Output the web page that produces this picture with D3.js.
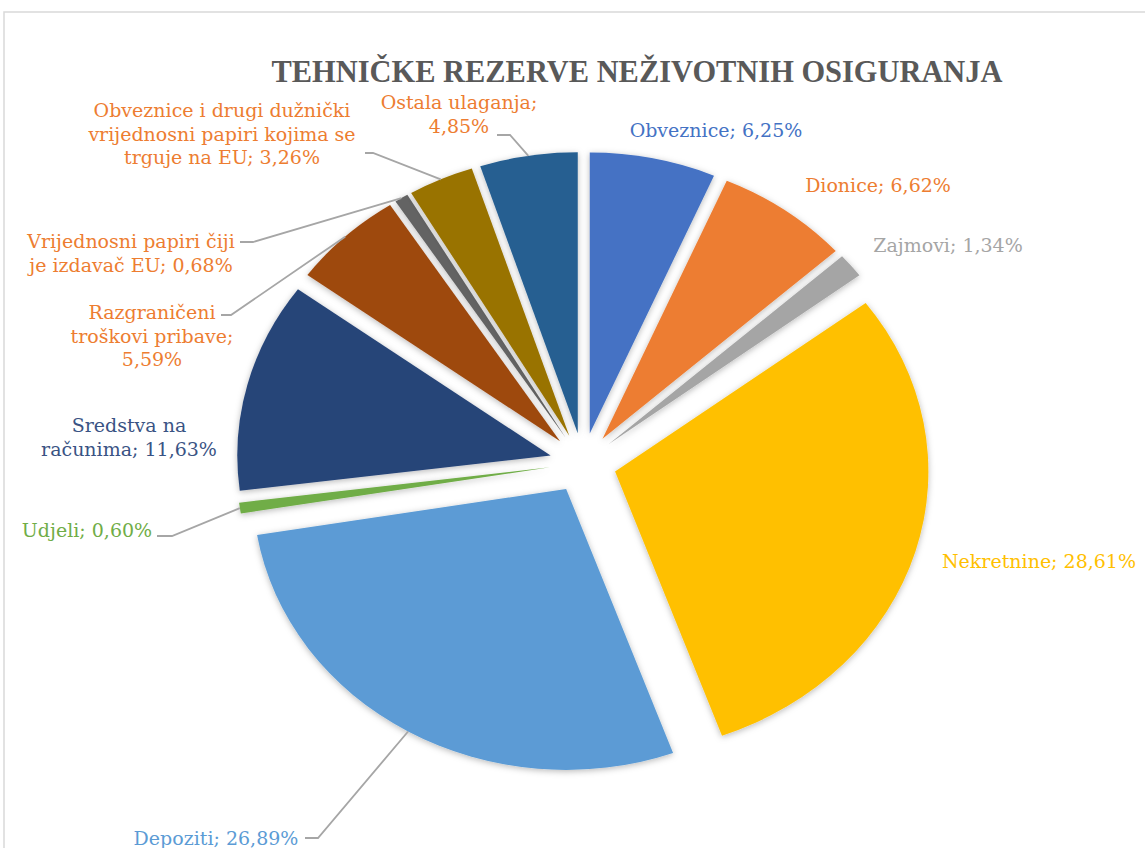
<!DOCTYPE html>
<html>
<head>
<meta charset="utf-8">
<script src="https://cdn.jsdelivr.net/npm/d3@7"></script>
<style>
  body { margin: 0; background: #fff; }
  svg { display: block; }
</style>
</head>
<body>
<div id="chart"></div>
<script>
// data (shares in %)
const categories = ["Obveznice", "Dionice", "Zajmovi", "Nekretnine", "Depoziti", "Udjeli",
  "Sredstva na računima", "Razgraničeni troškovi pribave", "Vrijednosni papiri čiji je izdavač EU",
  "Obveznice i drugi dužnički vrijednosni papiri kojima se trguje na EU", "Ostala ulaganja"];
const shares = [6.25, 6.62, 1.34, 28.61, 26.89, 0.60, 11.63, 5.59, 0.68, 3.26, 4.85];
const sliceColors = ["#4472C4", "#ED7D31", "#A5A5A5", "#FFC000", "#5B9BD5", "#70AD47",
  "#264478", "#9E480E", "#636363", "#997300", "#255E91"];
const labelColors = ["#4472C4", "#ED7D31", "#A5A5A5", "#FFC000", "#5B9BD5", "#70AD47",
  "#3A5384", "#ED7D31", "#ED7D31", "#ED7D31", "#ED7D31"];
// how many words of each label go on each line
const labelBreaks = [[2], [2], [2], [2], [2], [2], [2, 2], [1, 2, 1], [3, 4], [4, 4, 4], [2, 1]];

const W = 1145, H = 848;
const cx = 583, cy = 463, R = 281, sx = 1.115, explode = 30;

// label anchor points and leader line starts (layout only)
const labelPos = [
  { x: 716, y: 137 },
  { x: 878, y: 192 },
  { x: 948, y: 252 },
  { x: 1039, y: 568 },
  { x: 216, y: 845, lead: [305, 838, 318] },
  { x: 87, y: 537, lead: [157, 536, 172] },
  { x: 129, y: 432 },
  { x: 152, y: 319, lead: [221, 315, 231] },
  { x: 131, y: 248, lead: [240, 242, 253] },
  { x: 222, y: 117, lead: [365, 153, 373] },
  { x: 459, y: 109, lead: [497, 135, 510] }
];

const fmt = v => v.toFixed(2).replace(".", ",") + "%";

const svg = d3.select("#chart").append("svg")
  .attr("width", W)
  .attr("height", H);

const defs = svg.append("defs");
const shadow = defs.append("filter").attr("id", "shadow")
  .attr("x", "-20%").attr("y", "-20%").attr("width", "140%").attr("height", "140%");
shadow.append("feDropShadow")
  .attr("dx", 0).attr("dy", 1.5)
  .attr("stdDeviation", 3)
  .attr("flood-color", "#000")
  .attr("flood-opacity", 0.28);

// chart frame
svg.append("rect")
  .attr("x", 4).attr("y", 12)
  .attr("width", W + 20).attr("height", H + 20)
  .attr("fill", "#fff")
  .attr("stroke", "#D9D9D9")
  .attr("stroke-width", 1.5);

svg.append("text")
  .attr("x", 637).attr("y", 82)
  .attr("text-anchor", "middle")
  .attr("font-family", "'Liberation Serif', serif")
  .attr("font-weight", "bold")
  .attr("font-size", 32)
  .attr("fill", "#595959")
  .attr("textLength", 731)
  .attr("lengthAdjust", "spacingAndGlyphs")
  .text("TEHNIČKE REZERVE NEŽIVOTNIH OSIGURANJA");

const pie = d3.pie().sort(null).value(d => d)(shares);
const arc = d3.arc().innerRadius(0).outerRadius(R);
const mid = d => (d.startAngle + d.endAngle) / 2;

const g = svg.append("g")
  .attr("transform", `translate(${cx},${cy}) scale(${sx},1)`);

g.selectAll("path")
  .data(pie)
  .join("path")
  .attr("d", arc)
  .attr("fill", (d, i) => sliceColors[i])
  .attr("filter", "url(#shadow)")
  .attr("transform", d => `translate(${explode * Math.sin(mid(d))},${-explode * Math.cos(mid(d))})`);

// leader lines: label -> middle of the slice's outer edge
const edgePoint = d => [
  cx + sx * (R + explode) * Math.sin(mid(d)),
  cy - (R + explode) * Math.cos(mid(d))
];

svg.append("g")
  .selectAll("path")
  .data(pie.filter((d, i) => labelPos[i].lead))
  .join("path")
  .attr("d", d => {
    const l = labelPos[d.index].lead;
    const p = edgePoint(d);
    return `M${l[0]},${l[1]}L${l[2]},${l[1]}L${p[0]},${p[1]}`;
  })
  .attr("fill", "none")
  .attr("stroke", "#A6A6A6")
  .attr("stroke-width", 1.8);

// data labels
const labels = svg.append("g")
  .attr("font-family", "'DejaVu Serif', serif")
  .attr("font-size", 19)
  .attr("text-anchor", "middle");

pie.forEach((d, i) => {
  const words = (categories[i] + "; " + fmt(shares[i])).split(" ");
  const lines = [];
  let k = 0;
  labelBreaks[i].forEach((n, j) => {
    const end = j === labelBreaks[i].length - 1 ? words.length : k + n;
    lines.push(words.slice(k, end).join(" "));
    k = end;
  });
  const t = labels.append("text")
    .attr("x", labelPos[i].x)
    .attr("y", labelPos[i].y)
    .attr("fill", labelColors[i]);
  lines.forEach((s, j) => {
    t.append("tspan")
      .attr("x", labelPos[i].x)
      .attr("dy", j === 0 ? 0 : 23.5)
      .text(s);
  });
});
</script>
</body>
</html>
